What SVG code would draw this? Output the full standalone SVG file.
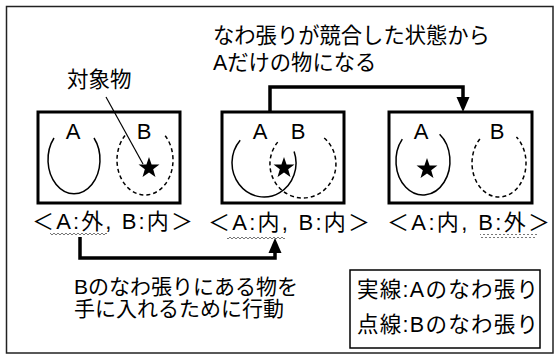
<svg xmlns="http://www.w3.org/2000/svg" width="558" height="358" viewBox="0 0 558 358">
<style>
.frame{fill:#fff;stroke:#222;stroke-width:1.5}
.box{fill:none;stroke:#000;stroke-width:3}
.legend{fill:none;stroke:#000;stroke-width:1.5}
.solid{fill:none;stroke:#000;stroke-width:1.5}
.dashed{fill:none;stroke:#000;stroke-width:1.5;stroke-dasharray:4 3}
.t{font-family:"Liberation Sans","Noto Sans CJK JP",sans-serif;fill:#000}
.conn{fill:none;stroke:#000;stroke-width:3.5}
.lead{fill:none;stroke:#000;stroke-width:1.2}
.wave{fill:url(#wv)}
</style>
<defs>
<pattern id="wv" width="4" height="4" patternUnits="userSpaceOnUse">
<path d="M0,3 L2,1 L4,3" fill="none" stroke="#777" stroke-width="1"/>
</pattern>
<path id="star" d="M0,-11 L2.586,-3.56 L10.462,-3.399 L4.185,1.36 L6.466,8.899 L0,4.4 L-6.466,8.899 L-4.185,1.36 L-10.462,-3.399 L-2.586,-3.56 Z" fill="#000"/>
</defs>
<rect class="frame" x="6.5" y="6.5" width="546.5" height="346.5"/>

<g id="title">
<text class="t" x="213" y="43" font-size="21.3">なわ張りが競合した状態から</text>
<text class="t" x="213" y="70" font-size="21.3">Aだけの物になる</text>
</g>

<g id="target-label">
<text class="t" x="67" y="87" font-size="21.5">対象物</text>
</g>

<g id="state1">
<rect class="box" x="38" y="112" width="142" height="91"/>
<text class="t" x="73" y="139" font-size="22" text-anchor="middle">A</text>
<text class="t" x="144" y="139" font-size="22" text-anchor="middle">B</text>
<path class="solid" d="M54,138 A26,34 0 1 0 94,138"/>
<path class="dashed" d="M125,135.5 A28,35 0 1 0 165,135.5"/>
<use href="#star" x="149" y="168"/>
<text class="t" x="32" y="229" font-size="22" textLength="161" lengthAdjust="spacing">＜A:外, B:内＞</text>
<rect class="wave" x="50" y="233" width="57" height="4"/>
</g>

<g id="state2">
<rect class="box" x="222" y="112" width="122" height="91"/>
<text class="t" x="260" y="139" font-size="22" text-anchor="middle">A</text>
<text class="t" x="298" y="139" font-size="22" text-anchor="middle">B</text>
<path class="solid" d="M240.2,140.3 A32,34 0 1 0 294.1,151.4"/>
<path class="dashed" d="M277.7,142.1 A33,34 0 1 0 324.2,138"/>
<use href="#star" x="284" y="168"/>
<text class="t" x="208" y="230" font-size="22" textLength="162" lengthAdjust="spacing">＜A:内, B:内＞</text>
<rect class="wave" x="227" y="235" width="58" height="4"/>
</g>

<g id="state3">
<rect class="box" x="389" y="112" width="143" height="91"/>
<text class="t" x="421" y="139" font-size="22" text-anchor="middle">A</text>
<text class="t" x="497" y="139" font-size="22" text-anchor="middle">B</text>
<path class="solid" d="M402.3,139.1 A27,34 0 1 0 439.6,134.2"/>
<path class="dashed" d="M479.9,139 A27,34 0 1 0 516.4,137"/>
<use href="#star" x="427" y="169"/>
<text class="t" x="387" y="230" font-size="22" textLength="163" lengthAdjust="spacing">＜A:内, B:外＞</text>
<rect class="wave" x="480" y="234" width="57" height="4"/>
</g>

<g id="action-text">
<text class="t" x="74" y="294" font-size="21">Bのなわ張りにある物を</text>
<text class="t" x="74" y="316" font-size="21">手に入れるために行動</text>
</g>

<g id="legend">
<rect class="legend" x="350" y="270" width="190" height="78"/>
<text class="t" x="357" y="297" font-size="21.5" textLength="181" lengthAdjust="spacing">実線:Aのなわ張り</text>
<text class="t" x="357" y="332" font-size="21.5" textLength="181" lengthAdjust="spacing">点線:Bのなわ張り</text>
</g>

<g id="connectors">
<line class="lead" x1="106" y1="97" x2="143" y2="164"/>
<path class="conn" d="M270,112 V87 H463 V99"/>
<polygon points="456.5,97 469.5,97 463,112"/>
<path class="conn" d="M80,237 V258 H275 V251"/>
<polygon points="268.5,253 281.5,253 275,238"/>
</g>
</svg>
